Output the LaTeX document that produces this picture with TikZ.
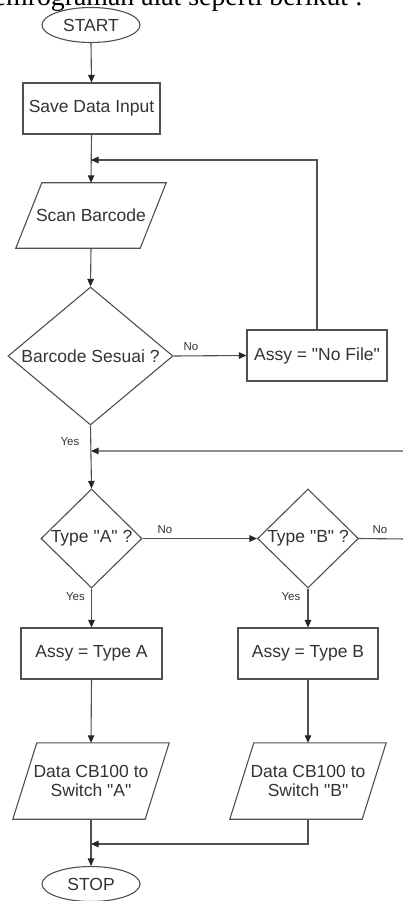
\documentclass[tikz,border=0pt]{standalone}
\usepackage{fontspec}
\setmainfont{Liberation Sans}[Ligatures=TeXOff]
\newfontfamily\serifx{Liberation Serif}
\usetikzlibrary{shapes.geometric,arrows.meta}
\definecolor{ln}{HTML}{505050}
\definecolor{tx}{HTML}{333333}
\newcommand\mainsz{\fontsize{17.5}{19.5}\selectfont}
\newcommand\lblsz{\fontsize{11.5}{13}\selectfont}
\begin{document}
\begin{tikzpicture}[x=1pt,y=-1pt,
  line/.style={draw=ln,line width=1.1pt},
  arr/.style={line,-{Triangle[length=7.5pt,width=6.5pt,color=black!85]}},
  proc/.style={rectangle,line,minimum width=140pt,minimum height=51pt,inner sep=0pt,text=tx,font=\mainsz},
  term/.style={ellipse,line,minimum width=98pt,minimum height=35pt,inner sep=0pt,text=tx,font=\mainsz},
  dec/.style={diamond,line,inner sep=0pt,text=tx,font=\mainsz},
  iobox/.style={rectangle,draw=none,inner sep=0pt,align=center,text=tx,font=\mainsz},
  lbl/.style={inner sep=0pt,text=tx,font=\lblsz}]
\useasboundingbox (0,0) rectangle (403,901);
\fill[white] (0,0) rectangle (403,901);

% cut-off caption at the top
\node[anchor=base east,inner sep=0pt,font=\serifx\fontsize{27.8}{31}\selectfont] (cap) at (363,6) {pemrograman alat seperti berikut :};

% nodes
\node[term] (start) at (91,25) {START};
\node[proc,minimum width=137pt] (save) at (91.5,108.5) {Save Data Input};
\node[iobox,minimum width=150pt,minimum height=65pt] (scan) at (91,215.5) {Scan Barcode};
\draw[line] ([xshift=26pt]scan.north west) -- (scan.north east) -- ([xshift=-26pt]scan.south east) -- (scan.south west) -- cycle;
\node[dec,minimum width=165pt,minimum height=138pt] (bar) at (90.5,356) {\makebox[0pt]{Barcode Sesuai ?}};
\node[proc] (nofile) at (317,355.5) {Assy = "No File"};
\node[dec,minimum width=101pt,minimum height=99pt] (ta) at (91.5,538.5) {\makebox[0pt]{Type "A" ?}};
\node[dec,minimum width=101pt,minimum height=99pt] (tb) at (308,538.5) {\makebox[0pt]{Type "B" ?}};
\node[proc,minimum width=141pt] (assya) at (91.5,653.5) {Assy = Type A};
\node[proc] (assyb) at (308,653.5) {Assy = Type B};
\node[iobox,minimum width=156pt,minimum height=76pt] (da) at (91,781) {Data CB100 to\\Switch "A"};
\draw[line] ([xshift=24pt]da.north west) -- (da.north east) -- ([xshift=-24pt]da.south east) -- (da.south west) -- cycle;
\node[iobox,minimum width=156pt,minimum height=76pt] (db) at (308,781) {Data CB100 to\\Switch "B"};
\draw[line] ([xshift=24pt]db.north west) -- (db.north east) -- ([xshift=-24pt]db.south east) -- (db.south west) -- cycle;
\node[term] (stop) at (91,884) {STOP};

% join points
\coordinate (j1) at (91,160);
\coordinate (j2) at (91,451);
\coordinate (j3) at (91,844);
\coordinate (r1) at (406,539);

% labels
\node[lbl] (lno1) at (191,347) {No};
\node[lbl] (lyes1) at (70,442) {Yes};
\node[lbl] (lno2) at (165,530) {No};
\node[lbl] (lno3) at (380,530) {No};
\node[lbl] (lyes2) at (75.5,597) {Yes};
\node[lbl] (lyes3) at (291,597) {Yes};

% connectors
\draw[arr] (start.south) -- (save.north);
\draw[arr] (save.south) -- (scan.north);
\draw[arr] (nofile.north) |- (j1);
\draw[arr] (scan.south) -- (bar.north);
\draw[arr] (bar.east) -- (nofile.west);
\draw[arr] (bar.south) -- (ta.north);
\draw[arr] (tb.east) -- (r1) |- (j2);
\draw[arr] (ta.east) -- (tb.west);
\draw[arr] (ta.south) -- (assya.north);
\draw[arr] (tb.south) -- (assyb.north);
\draw[arr] (assya.south) -- (da.north);
\draw[arr] (assyb.south) -- (db.north);
\draw[arr] (da.south) -- (stop.north);
\draw[arr] (db.south) |- (j3);
\end{tikzpicture}
\end{document}
